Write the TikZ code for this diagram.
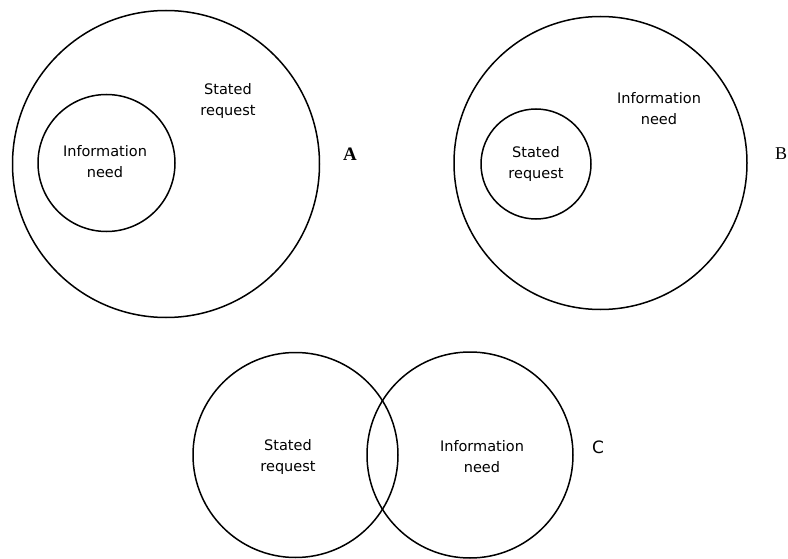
\documentclass[tikz,border=0pt]{standalone}
\usepackage{fontspec}
\setmainfont{Liberation Serif}
\newfontfamily\labelsans{DejaVu Sans}
\begin{document}
\begin{tikzpicture}[x=1pt,y=1pt,
  ring/.style={circle,draw,line width=1.5pt,inner sep=0pt},
  caption/.style={align=center,font=\labelsans\fontsize{14.5}{21}\selectfont},
  tag/.style={font=\fontsize{18}{20}\selectfont}]
\useasboundingbox (0,0) rectangle (788,-559);

% A: information need inside the stated request
\node[ring,minimum size=307pt] (outerA) at (166,-164) {};
\node[ring,minimum size=137pt] (innerA) at (106.5,-163) {};
\node[caption] (reqA) at (228,-101) {Stated\\request};
\node[caption] (needA) at (105,-162) {Information\\need};
\node[tag,font=\bfseries\fontsize{19}{20}\selectfont] (labA) at (350,-154) {A};

% B: stated request inside the information need
\node[ring,minimum size=293pt] (outerB) at (600.5,-163) {};
\node[ring,minimum size=110pt] (innerB) at (536,-164) {};
\node[caption] (needB) at (659,-109) {Information\\need};
\node[caption] (reqB) at (536,-164) {Stated\\request};
\node[tag] (labB) at (781,-154) {B};

% C: the two only partly overlap
\node[ring,minimum size=205pt] (leftC) at (295.5,-455) {};
\node[ring,minimum size=206pt] (rightC) at (470,-455) {};
\node[caption] (reqC) at (288,-457) {Stated\\request};
\node[caption] (needC) at (482,-457) {Information\\need};
\node[tag,font=\labelsans\fontsize{17}{18}\selectfont] (labC) at (598,-447) {C};
\end{tikzpicture}
\end{document}
